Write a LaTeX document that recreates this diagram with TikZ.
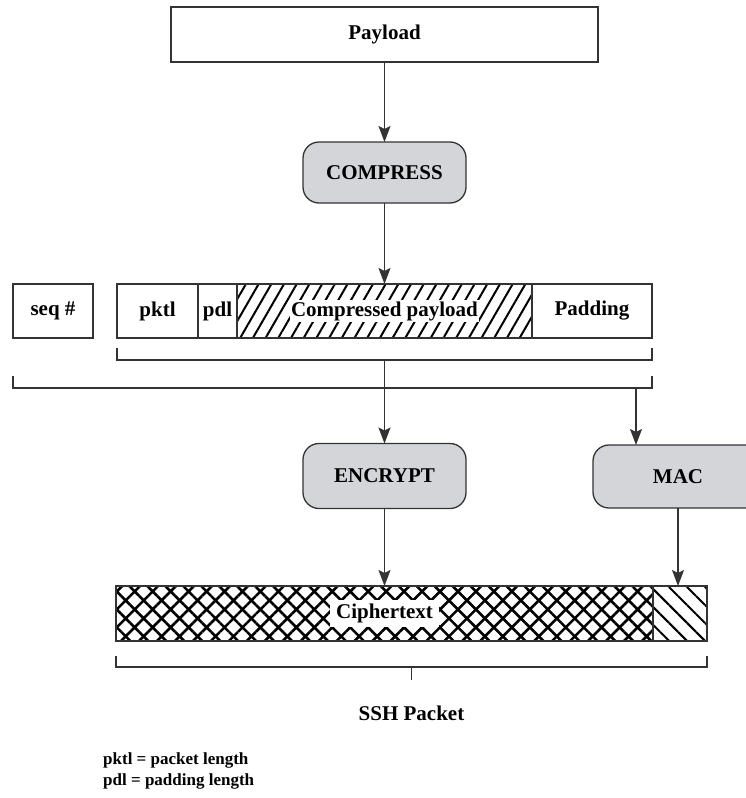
\documentclass[tikz,border=0pt]{standalone}
\usepackage{fontspec}
\setmainfont{Liberation Serif}
\usetikzlibrary{positioning}
\usetikzlibrary{arrows.meta}
\usetikzlibrary{patterns.meta}
\definecolor{opgray}{HTML}{D3D5D8}
\tikzset{
    field/.style = {draw=black!80, line width=1.3pt, minimum height=54pt, inner sep=0pt, outer sep=0pt,
        font=\fontsize{21}{24}\selectfont\bfseries},
    opbox/.style = {field, rounded corners=16pt, fill=opgray, minimum width=163pt, minimum height=63pt},
    tag/.style = {inner sep=1pt, fill=white, font=\fontsize{21}{24}\selectfont\bfseries},
    keytext/.style = {anchor=west, inner sep=0pt, font=\fontsize{17}{20}\selectfont\bfseries},
    bline/.style = {draw=black!80, line width=1.3pt},
}

\begin{document}
\begin{tikzpicture}[x=1pt, y=-1pt, node distance=0pt, >={Stealth[length=16pt, width=12pt, inset=3pt]}]
        \useasboundingbox (0,0) rectangle (746,798);

        \node[field, minimum width=427pt, minimum height=55pt] (payload) at (384.5, 34.5) {Payload};
        \node[opbox, minimum height=61pt] (compress) at (384.5, 172.5) {COMPRESS};

        % packet fields
        \node[field, minimum width=80pt] (seq) at (53, 311) {seq \#};
        \node[field, minimum width=81pt] (pktl) at (157.5, 311) {pktl};
        \node[field, minimum width=39pt, right = of pktl] (pdl) {pdl};
        \node[field, minimum width=295pt, right = of pdl,
            pattern={Lines[angle=60, distance=11pt, line width=2pt]}] (cpay) {};
        \node[tag] (cpaytext) at (cpay) {Compressed payload};
        \node[field, minimum width=120pt, right = of cpay] (pad) {Padding};

        % brackets
        \draw[bline] ([yshift=-10pt]pktl.south west) -- ([yshift=-22pt]pktl.south west)
            -- ([yshift=-22pt]pad.south east) -- ([yshift=-10pt]pad.south east);
        \draw[bline] ([yshift=-38pt]seq.south west) -- ([yshift=-50pt]seq.south west)
            -- ([yshift=-50pt]pad.south east) -- ([yshift=-38pt]pad.south east);
        \coordinate (b1) at ([yshift=-22pt]cpay.south);
        \coordinate (b2) at (636, 388);

        \node[opbox, minimum height=65pt] (encrypt) at (384.5, 476) {ENCRYPT};
        \node[opbox, minimum width=170pt] (mac) at (678, 476.5) {MAC};

        % ssh packet
        \node[field, minimum width=537pt, minimum height=55pt,
            pattern={Hatch[angle=45, distance=12.7pt, line width=2.6pt]}] (cipher) at (384.5, 613.5) {};
        \node[tag, inner xsep=6pt, inner ysep=4pt] (ciphertext) at (cipher) {Ciphertext};
        \node[field, minimum width=54pt, minimum height=55pt, right = of cipher,
            pattern={Lines[angle=-45, distance=12.7pt, line width=2pt]}] (macpart) {};

        \draw[bline] ([yshift=-15pt]cipher.south west) -- ([yshift=-26pt]cipher.south west)
            -- ([yshift=-26pt]macpart.south east) -- ([yshift=-15pt]macpart.south east);
        \coordinate (b3) at (411.5, 667);
        \draw[bline] (b3) -- ++(0, 13);
        \node[tag, fill=none] (ssh) at (411.5, 713) {SSH Packet};

        \node[keytext] (key1) at (103, 760) {pktl = packet length};
        \node[keytext] (key2) at (103, 781) {pdl = padding length};

        \draw[bline, ->] (payload) -- (compress);
        \draw[bline, ->] (compress) -- (cpay.north);
        \draw[bline, ->] (b1) -- (encrypt.north);
        \draw[bline, ->] (b2) -- (b2 |- mac.north);
        \draw[bline, ->] (encrypt) -- (cipher);
        \draw[bline, ->] (mac) -- (mac.south |- macpart.north);
    \end{tikzpicture}
\end{document}
